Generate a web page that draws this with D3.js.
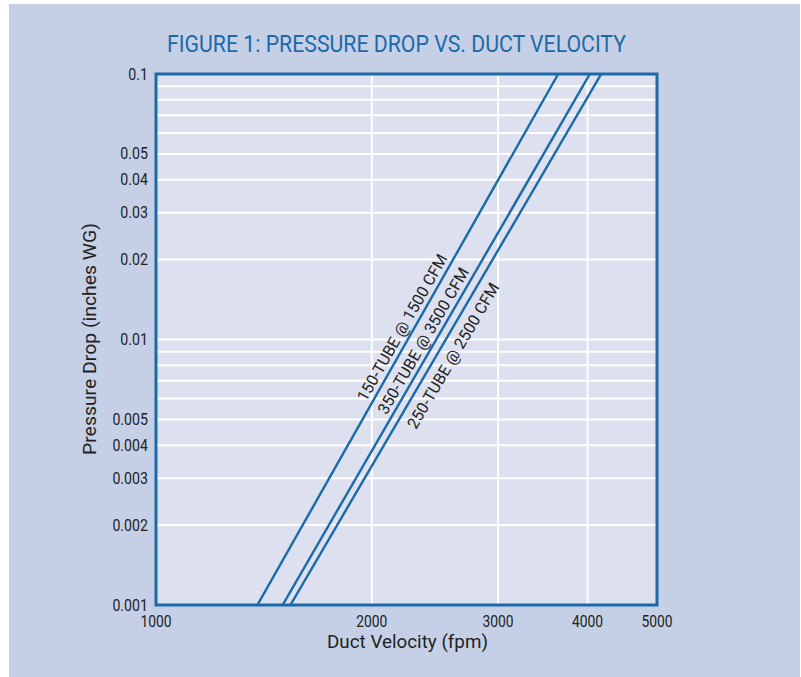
<!DOCTYPE html>
<html><head><meta charset="utf-8">
<script src="https://cdn.jsdelivr.net/npm/d3@7"></script>
<style>
body{margin:0;background:#fff;}
svg{display:block;}
text{font-family:"Roboto","Liberation Sans",sans-serif;}
</style></head><body>
<svg id="c" width="801" height="677"></svg>
<script>
const title = "FIGURE 1: PRESSURE DROP VS. DUCT VELOCITY";
const xTicks = [1000, 2000, 3000, 4000, 5000];
const yTickLabels = [0.001, 0.002, 0.003, 0.004, 0.005, 0.01, 0.02, 0.03, 0.04, 0.05, 0.1];
const yGrid = [0.002,0.003,0.004,0.005,0.006,0.007,0.008,0.009,0.01,0.02,0.03,0.04,0.05,0.06,0.07,0.08,0.09];
const xGrid = [2000, 3000, 4000];
const seriesNames = ["150-TUBE @ 1500 CFM", "350-TUBE @ 3500 CFM", "250-TUBE @ 2500 CFM"];
// [velocity, pressure] endpoints of each straight log-log line
const series150 = [[1385, 0.001], [3640, 0.1]];
const series350 = [[1502, 0.001], [4030, 0.1]];
const series250 = [[1540, 0.001], [4180, 0.1]];
const allSeries = [series150, series350, series250];
const labelAt = [[2204, 0.0111], [2358, 0.0099], [2596, 0.0087]];

const svg = d3.select("#c");
const L = 156, R = 657, T = 74, B = 605;
const x = d3.scaleLog().domain([1000, 5000]).range([L, R]);
const y = d3.scaleLog().domain([0.001, 0.1]).range([B, T]);

svg.append("rect").attr("x", 9).attr("y", 4).attr("width", 791).attr("height", 673).attr("fill", "#c5d0e7");
svg.append("rect").attr("x", L).attr("y", T).attr("width", R - L).attr("height", B - T).attr("fill", "#dce0ef");

svg.append("text").attr("x", 167).attr("y", 52)
  .attr("textLength", 459).attr("lengthAdjust", "spacingAndGlyphs")
  .attr("font-size", 24).attr("fill", "#1b6aa7").text(title);

const g = svg.append("g");
g.selectAll("line.hg").data(yGrid).enter().append("line")
  .attr("x1", L).attr("x2", R).attr("y1", d => y(d)).attr("y2", d => y(d))
  .attr("stroke", "#fff").attr("stroke-width", 2);
g.selectAll("line.vg").data(xGrid).enter().append("line")
  .attr("y1", T).attr("y2", B).attr("x1", d => x(d)).attr("x2", d => x(d))
  .attr("stroke", "#fff").attr("stroke-width", 2);

svg.append("clipPath").attr("id", "pc").append("rect")
  .attr("x", L).attr("y", T).attr("width", R - L).attr("height", B - T);
const line = d3.line().x(d => x(d[0])).y(d => y(d[1]));
svg.append("g").attr("clip-path", "url(#pc)").selectAll("path").data(allSeries).enter().append("path")
  .attr("d", line).attr("fill", "none").attr("stroke", "#1b6aa7").attr("stroke-width", 2.4);

svg.append("rect").attr("x", L).attr("y", T).attr("width", R - L).attr("height", B - T)
  .attr("fill", "none").attr("stroke", "#1b6aa7").attr("stroke-width", 3);

allSeries.forEach((s, i) => {
  const ang = Math.atan2(y(s[1][1]) - y(s[0][1]), x(s[1][0]) - x(s[0][0])) * 180 / Math.PI;
  const px = x(labelAt[i][0]), py = y(labelAt[i][1]);
  svg.append("text").attr("transform", `translate(${px},${py}) rotate(${ang})`)
    .attr("x", -83).attr("dy", "0.36em")
    .attr("textLength", 166).attr("lengthAdjust", "spacingAndGlyphs")
    .attr("font-size", 16).attr("fill", "#222").text(seriesNames[i]);
});

svg.selectAll("text.yt").data(yTickLabels).enter().append("text")
  .attr("transform", d => `translate(148,${y(d) + 5.5}) scale(0.86,1)`).attr("text-anchor", "end")
  .attr("font-size", 16.5).attr("fill", "#222").text(d => String(d));
svg.selectAll("text.xt").data(xTicks).enter().append("text")
  .attr("transform", d => `translate(${x(d)},627) scale(0.84,1)`).attr("text-anchor", "middle")
  .attr("font-size", 16.5).attr("fill", "#222").text(d => String(d));

svg.append("text").attr("x", 327).attr("y", 648)
  .attr("textLength", 161).attr("lengthAdjust", "spacingAndGlyphs")
  .attr("font-size", 18).attr("fill", "#222").text("Duct Velocity (fpm)");
svg.append("text").attr("transform", "translate(96,455) rotate(-90)")
  .attr("textLength", 232).attr("lengthAdjust", "spacingAndGlyphs")
  .attr("font-size", 18).attr("fill", "#222").text("Pressure Drop (inches WG)");
</script>
</body></html>
